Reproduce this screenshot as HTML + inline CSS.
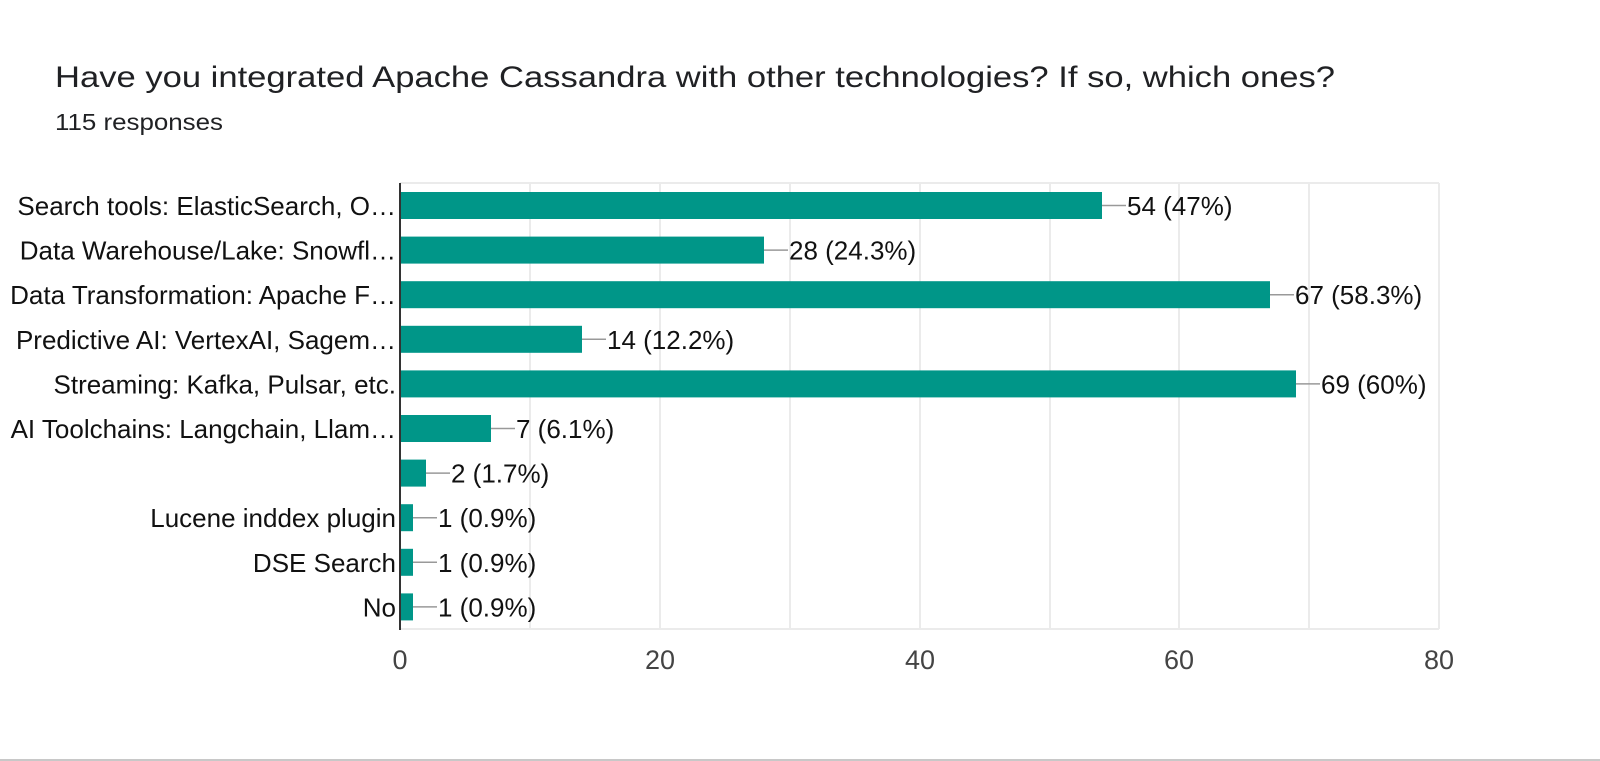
<!DOCTYPE html>
<html><head><meta charset="utf-8"><style>html,body{margin:0;padding:0;background:#fff;}svg{display:block}</style></head>
<body>
<svg width="1600" height="761" xmlns="http://www.w3.org/2000/svg" font-family="Liberation Sans, Arial, sans-serif">
<rect width="1600" height="761" fill="#fff"/>
<text x="55" y="87" font-size="30" fill="#202124" textLength="1280" lengthAdjust="spacingAndGlyphs">Have you integrated Apache Cassandra with other technologies? If so, which ones?</text>
<text x="55" y="130" font-size="23" fill="#202124" textLength="168" lengthAdjust="spacingAndGlyphs">115 responses</text>
<g stroke="#ebebeb" stroke-width="2">
<line x1="530" y1="183" x2="530" y2="629"/>
<line x1="660" y1="183" x2="660" y2="629"/>
<line x1="790" y1="183" x2="790" y2="629"/>
<line x1="920" y1="183" x2="920" y2="629"/>
<line x1="1050" y1="183" x2="1050" y2="629"/>
<line x1="1179" y1="183" x2="1179" y2="629"/>
<line x1="1309" y1="183" x2="1309" y2="629"/>
<line x1="1439" y1="183" x2="1439" y2="629"/>
<line x1="400" y1="183" x2="1439" y2="183"/>
<line x1="400" y1="629" x2="1439" y2="629"/>
</g>
<g fill="#009688">
<rect x="401" y="192" width="701" height="27"/>
<rect x="401" y="236.6" width="363" height="27"/>
<rect x="401" y="281.2" width="869" height="27"/>
<rect x="401" y="325.8" width="181" height="27"/>
<rect x="401" y="370.4" width="895" height="27"/>
<rect x="401" y="415" width="90" height="27"/>
<rect x="401" y="459.6" width="25" height="27"/>
<rect x="401" y="504.2" width="12" height="27"/>
<rect x="401" y="548.8" width="12" height="27"/>
<rect x="401" y="593.4" width="12" height="27"/>
</g>
<line x1="400" y1="183" x2="400" y2="630" stroke="#333" stroke-width="2"/>
<g stroke="#999" stroke-width="1.5">
<line x1="1102" y1="205.5" x2="1126" y2="205.5"/>
<line x1="764" y1="250.1" x2="788" y2="250.1"/>
<line x1="1270" y1="294.7" x2="1294" y2="294.7"/>
<line x1="582" y1="339.3" x2="606" y2="339.3"/>
<line x1="1296" y1="383.9" x2="1320" y2="383.9"/>
<line x1="491" y1="428.5" x2="515" y2="428.5"/>
<line x1="426" y1="473.1" x2="450" y2="473.1"/>
<line x1="413" y1="517.7" x2="437" y2="517.7"/>
<line x1="413" y1="562.3" x2="437" y2="562.3"/>
<line x1="413" y1="606.9" x2="437" y2="606.9"/>
</g>
<g font-size="26" fill="#111">
<text x="1127" y="215">54 (47%)</text>
<text x="789" y="259.6">28 (24.3%)</text>
<text x="1295" y="304.2">67 (58.3%)</text>
<text x="607" y="348.8">14 (12.2%)</text>
<text x="1321" y="393.4">69 (60%)</text>
<text x="516" y="438">7 (6.1%)</text>
<text x="451" y="482.6">2 (1.7%)</text>
<text x="438" y="527.2">1 (0.9%)</text>
<text x="438" y="571.8">1 (0.9%)</text>
<text x="438" y="616.4">1 (0.9%)</text>
</g>
<g font-size="26" fill="#111" text-anchor="end">
<text x="396" y="215">Search tools: ElasticSearch, O…</text>
<text x="396" y="259.6">Data Warehouse/Lake: Snowfl…</text>
<text x="396" y="304.2">Data Transformation: Apache F…</text>
<text x="396" y="348.8">Predictive AI: VertexAI, Sagem…</text>
<text x="396" y="393.4">Streaming: Kafka, Pulsar, etc.</text>
<text x="396" y="438">AI Toolchains: Langchain, Llam…</text>
<text x="396" y="527.2">Lucene inddex plugin</text>
<text x="396" y="571.8">DSE Search</text>
<text x="396" y="616.4">No</text>
</g>
<g font-size="27" fill="#444" text-anchor="middle">
<text x="400" y="669">0</text>
<text x="660" y="669">20</text>
<text x="920" y="669">40</text>
<text x="1179" y="669">60</text>
<text x="1439" y="669">80</text>
</g>
<line x1="0" y1="760" x2="1600" y2="760" stroke="#c8c8c8" stroke-width="2"/>
</svg>
</body></html>
